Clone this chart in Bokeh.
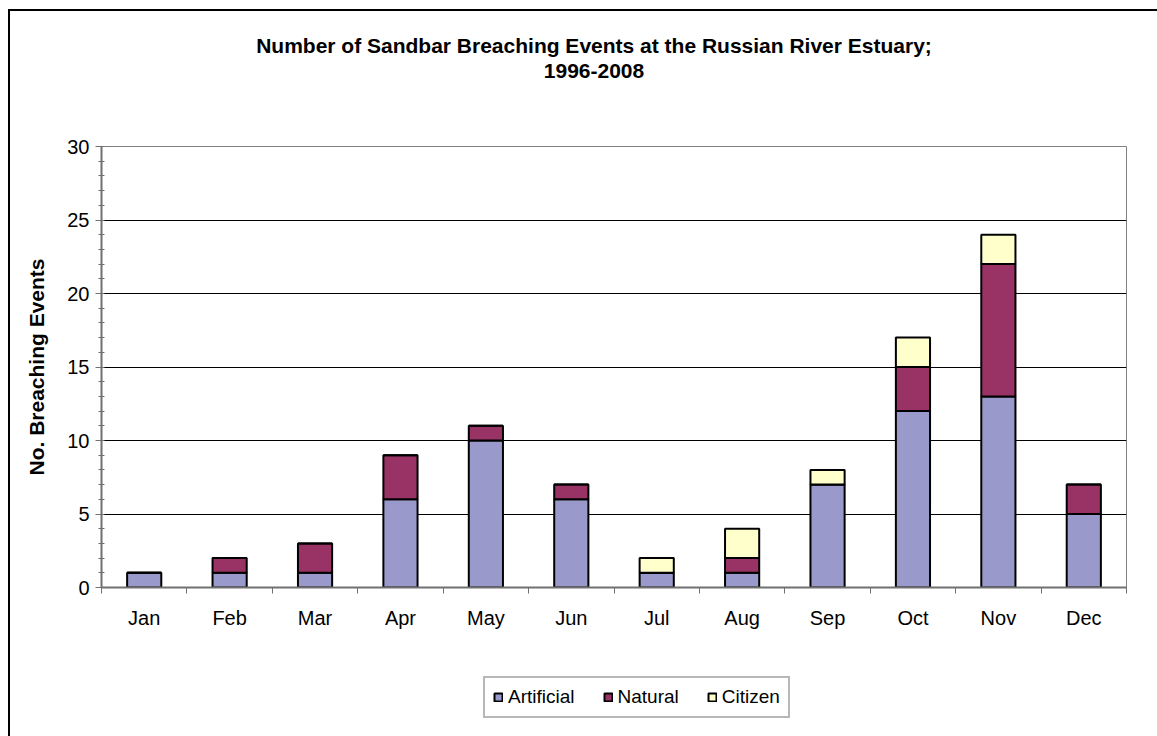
from bokeh.plotting import figure
from bokeh.layouts import column
from bokeh.models import (ColumnDataSource, Range1d, SingleIntervalTicker, FixedTicker,
                          Legend, LegendItem, Div)
from bokeh.embed import file_html
from bokeh.resources import INLINE

months = ["Jan", "Feb", "Mar", "Apr", "May", "Jun", "Jul", "Aug", "Sep", "Oct", "Nov", "Dec"]
artificial = [1, 1, 1, 6, 10, 6, 1, 1, 7, 12, 13, 5]
natural = [0, 1, 2, 3, 1, 1, 0, 1, 0, 3, 9, 2]
citizen = [0, 0, 0, 0, 0, 0, 1, 2, 1, 2, 2, 0]
series = ["Artificial", "Natural", "Citizen"]
colors = ["#9999CC", "#993366", "#FFFFCC"]
title_lines = ["Number of Sandbar Breaching Events at the Russian River Estuary;", "1996-2008"]

FONT = "Liberation Sans"

xpos = [i + 0.5 for i in range(len(months))]
src = ColumnDataSource(dict(x=xpos, Artificial=artificial, Natural=natural, Citizen=citizen))

# title block
title = Div(text=("<div style=\"box-sizing:border-box; margin-top:22px; padding-left:21px; "
                  "text-align:center; font-family:'Liberation Sans'; font-weight:bold; "
                  "font-size:21px; line-height:25px; color:#000; width:1147px;\">"
                  + "<br>".join(title_lines) + "</div>"),
            width=1147, height=120, margin=0)

p = figure(width=1147, height=519, output_backend="svg", toolbar_location=None,
           x_range=Range1d(0, len(months)), y_range=Range1d(0, 30),
           min_border_left=91, min_border_right=31, min_border_top=15, min_border_bottom=63)

rs = p.vbar_stack(series, x="x", width=0.4, color=colors, line_color="black",
                  line_width=2, source=src)

p.xgrid.grid_line_color = None
p.ygrid.grid_line_color = "black"
p.ygrid.grid_line_width = 1
p.outline_line_color = "#808080"
p.outline_line_width = 1

ya = p.yaxis[0]
ya.ticker = SingleIntervalTicker(interval=5, num_minor_ticks=5)
ya.axis_label = "No. Breaching Events"
ya.axis_label_text_font = FONT
ya.axis_label_text_font_size = "21px"
ya.axis_label_text_font_style = "bold"
ya.axis_label_text_color = "black"
ya.axis_label_standoff = 16
ya.major_label_text_font = FONT
ya.major_label_text_font_size = "20px"
ya.major_label_text_color = "black"
ya.major_label_standoff = 6
ya.major_tick_out = 6
ya.major_tick_in = 0
ya.minor_tick_out = 3
ya.minor_tick_in = 3
ya.axis_line_color = "#707070"
ya.axis_line_width = 2
ya.major_tick_line_color = "#707070"
ya.minor_tick_line_color = "#707070"

xa = p.xaxis[0]
xa.ticker = FixedTicker(ticks=xpos, minor_ticks=list(range(len(months) + 1)))
xa.major_label_overrides = {x: m for x, m in zip(xpos, months)}
xa.major_label_text_font = FONT
xa.major_label_text_font_size = "20px"
xa.major_label_text_color = "black"
xa.major_label_standoff = 13
xa.major_tick_out = 0
xa.major_tick_in = 0
xa.minor_tick_out = 6
xa.minor_tick_in = 0
xa.axis_line_color = "#707070"
xa.axis_line_width = 2
xa.minor_tick_line_color = "#707070"

# legend strip below the chart (its renderers are hidden; only the swatches show)
lf = figure(width=1147, height=86, output_backend="svg", toolbar_location=None,
            x_range=Range1d(-3, -2), y_range=Range1d(100, 101), min_border=0)
lf.axis.visible = False
lf.grid.visible = False
lf.outline_line_color = None
lrs = lf.vbar_stack(series, x="x", width=0.4, color=colors, line_color="black",
                    line_width=2, source=src)
for r in lrs:
    r.visible = False
legend = Legend(items=[LegendItem(label=s, renderers=[r]) for s, r in zip(series, lrs)],
                orientation="horizontal", location=(382, 18),
                label_text_font=FONT, label_text_font_size="19px", label_text_color="black",
                glyph_width=10, glyph_height=10, label_standoff=5, spacing=28,
                padding=8, margin=0, border_line_color="#707070", border_line_width=2,
                background_fill_color="white", inactive_fill_alpha=0)
lf.add_layout(legend, "center")

layout = column(title, p, lf)
layout.styles = {"margin-left": "8px", "margin-top": "9px",
                 "border-left": "2px solid #000", "border-top": "2px solid #000"}

open("out.html", "w").write(file_html(layout, INLINE))
